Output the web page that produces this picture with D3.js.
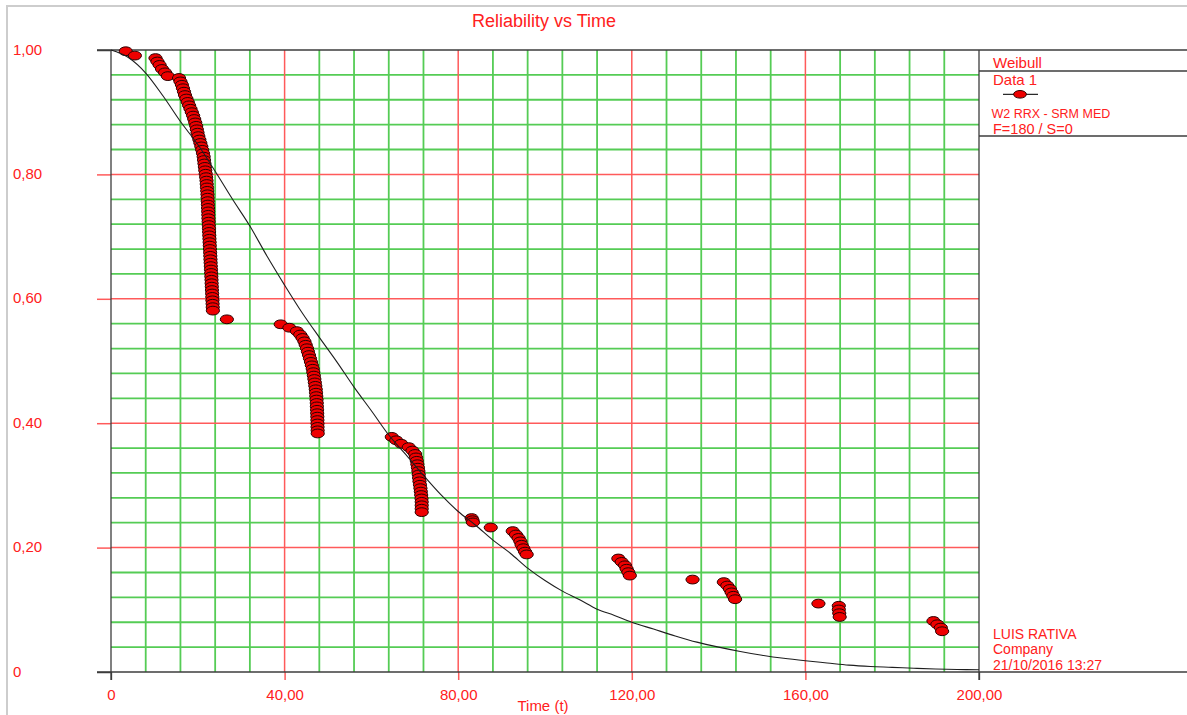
<!DOCTYPE html>
<html>
<head>
<meta charset="utf-8">
<script src="https://cdn.jsdelivr.net/npm/d3@7"></script>
<style>
  html, body { margin: 0; padding: 0; background: #fff; overflow: hidden; }
  svg { display: block; font-family: "Liberation Sans", Arial, sans-serif; }
</style>
</head>
<body>
<svg id="chart" width="1187" height="715"></svg>
<script>
// ---- Failure data (time, reliability estimate), grouped by clusters ----
const failureTimes = [
  3.4, 5.5,
  10.25, 10.7, 11.2, 11.75, 12.45, 13.1,
  15.67, 16.0, 16.34, 16.58, 16.82, 17.05, 17.37, 17.68, 17.99, 18.31,
  18.62, 18.92, 19.17, 19.41, 19.63, 19.78, 19.94, 20.12, 20.36, 20.59,
  20.81, 21.01, 21.20, 21.35, 21.44, 21.53, 21.63, 21.72, 21.82, 21.92,
  22.01, 22.06, 22.12, 22.17, 22.23, 22.26, 22.29, 22.33, 22.36, 22.39,
  22.42, 22.45, 22.49, 22.53, 22.57, 22.60, 22.64, 22.68, 22.72, 22.76,
  22.80, 22.84, 22.88, 22.92, 22.96, 23.00, 23.04, 23.08, 23.12, 23.16,
  23.19, 23.23, 23.26, 23.30, 23.34, 23.37, 23.41, 23.44, 23.48,
  26.7,
  39.1, 41.1, 42.83, 43.59, 44.13, 44.57, 44.86, 45.15, 45.38, 45.62,
  45.85, 46.07, 46.28, 46.48, 46.61, 46.74, 46.86, 46.97, 47.08, 47.18,
  47.24, 47.30, 47.36, 47.41, 47.44, 47.48, 47.51, 47.54, 47.56, 47.58,
  47.59, 47.61, 47.63,
  64.7, 65.72, 66.87, 68.61, 69.46, 70.08, 70.28, 70.46, 70.59, 70.72,
  70.83, 70.91, 70.99, 71.08, 71.19, 71.30, 71.39, 71.47, 71.55, 71.59,
  71.59, 71.59, 71.59,
  83.1, 83.3, 83.4,
  87.5,
  92.56, 93.3, 93.9, 94.33, 94.6, 95.0, 95.4, 95.78,
  116.9, 117.67, 118.43, 118.8, 119.2, 119.55,
  134.0,
  141.2, 142.0, 142.6, 143.0, 143.4, 143.8,
  163.0,
  167.7, 167.7, 167.8, 167.9,
  189.5, 190.4, 191.2, 191.5
];

const reliabilityValues = [
  0.998, 0.991,
  0.987, 0.9815, 0.976, 0.9695, 0.964, 0.958,
  0.955, 0.9495, 0.944, 0.9385, 0.933, 0.9275, 0.922, 0.9165, 0.911, 0.9055,
  0.900, 0.8945, 0.889, 0.8835, 0.878, 0.8725, 0.867, 0.8615, 0.856, 0.8505,
  0.845, 0.8395, 0.834, 0.8285, 0.823, 0.8175, 0.812, 0.8065, 0.801, 0.7955,
  0.790, 0.7845, 0.779, 0.7735, 0.768, 0.7625, 0.757, 0.7515, 0.746, 0.7405,
  0.735, 0.7295, 0.724, 0.7185, 0.713, 0.7075, 0.702, 0.6965, 0.691, 0.6855,
  0.680, 0.6745, 0.669, 0.6635, 0.658, 0.6525, 0.647, 0.6415, 0.636, 0.6305,
  0.625, 0.6195, 0.614, 0.6085, 0.603, 0.5975, 0.592, 0.5865, 0.581,
  0.567,
  0.559, 0.5535, 0.548, 0.5425, 0.537, 0.5315, 0.526, 0.5205, 0.515, 0.5095,
  0.504, 0.4985, 0.493, 0.4875, 0.482, 0.4765, 0.471, 0.4655, 0.460, 0.4545,
  0.449, 0.4435, 0.438, 0.4325, 0.427, 0.4215, 0.416, 0.4105, 0.405, 0.3995,
  0.394, 0.3885, 0.3835,
  0.378, 0.3725, 0.367, 0.3615, 0.356, 0.3505, 0.345, 0.3395, 0.334, 0.3285,
  0.323, 0.3175, 0.312, 0.3065, 0.301, 0.2955, 0.290, 0.2845, 0.279, 0.2735,
  0.268, 0.2625, 0.257,
  0.2475, 0.244, 0.2405,
  0.2323,
  0.2265, 0.221, 0.2155, 0.210, 0.2045, 0.199, 0.1935, 0.189,
  0.1825, 0.177, 0.1715, 0.166, 0.1605, 0.155,
  0.1486,
  0.1445, 0.139, 0.1335, 0.128, 0.1225, 0.117,
  0.110,
  0.1065, 0.1005, 0.0945, 0.0885,
  0.082, 0.0767, 0.0714, 0.0655
];

// ---- Fitted Weibull reliability line ----
const curveTimes = [
  0, 4, 8, 12, 16, 20, 24, 28, 32, 36, 40, 44, 48, 52, 56, 60, 64, 68, 72, 76,
  80, 84, 88, 92, 96, 100, 104, 108, 112, 116, 120, 125, 130, 135, 140, 145,
  150, 155, 160, 165, 170, 175, 180, 185, 190, 195, 200
];
const curveReliability = [
  1.000, 0.988, 0.963, 0.926, 0.885, 0.848, 0.805, 0.760, 0.717, 0.668, 0.622,
  0.578, 0.538, 0.499, 0.458, 0.420, 0.381, 0.349, 0.316, 0.285, 0.258, 0.236,
  0.212, 0.191, 0.167, 0.147, 0.130, 0.116, 0.101, 0.091, 0.080, 0.069, 0.058,
  0.048, 0.040, 0.033, 0.027, 0.022, 0.018, 0.0145, 0.011, 0.0088, 0.0075,
  0.006, 0.0048, 0.0041, 0.0035
];

// ---- Tick labels ----
const xTickValues = [0, 40, 80, 120, 160, 200];
const xTickLabels = ["0", "40,00", "80,00", "120,00", "160,00", "200,00"];
const yTickValues = [0, 0.2, 0.4, 0.6, 0.8, 1.0];
const yTickLabels = ["0", "0,20", "0,40", "0,60", "0,80", "1,00"];

// ---- Text ----
const chartTitle = "Reliability vs Time";
const xAxisTitle = "Time (t)";
const legendLines = ["Weibull", "Data 1", "W2 RRX - SRM MED", "F=180 / S=0"];
const footerLines = ["LUIS RATIVA", "Company", "21/10/2016 13:27"];

// ---- Colours ----
const TEXT_RED = "#ff2020";
const GRID_RED = "#ff5a5a";
const GRID_GREEN = "#55cc55";
const FRAME = "#3c3c3c";

const svg = d3.select("#chart");

const x = d3.scaleLinear().domain([0, 200]).range([111, 979]);
const y = d3.scaleLinear().domain([0, 1]).range([672, 50]);

// window edge
svg.append("path")
  .attr("d", "M7,715 L7,6 L1187,6")
  .attr("fill", "none")
  .attr("stroke", "#cdcdcd")
  .attr("stroke-width", 2);

// title
svg.append("text")
  .attr("x", 544).attr("y", 27)
  .attr("text-anchor", "middle")
  .attr("font-size", 18)
  .attr("fill", TEXT_RED)
  .text(chartTitle);

// ---- grid ----
const grid = svg.append("g");
const minorX = d3.range(1, 25).filter(i => i % 5 !== 0).map(i => i * 8);
const minorY = d3.range(1, 25).filter(i => i % 5 !== 0).map(i => i * 0.04);
const majorX = [40, 80, 120, 160];
const majorY = [0.2, 0.4, 0.6, 0.8];

grid.selectAll(".gx").data(minorX).join("line")
  .attr("x1", d => x(d)).attr("x2", d => x(d))
  .attr("y1", y(1)).attr("y2", y(0))
  .attr("stroke", GRID_GREEN).attr("stroke-width", 1.8);

grid.selectAll(".gy").data(minorY).join("line")
  .attr("x1", x(0)).attr("x2", x(200))
  .attr("y1", d => y(d)).attr("y2", d => y(d))
  .attr("stroke", GRID_GREEN).attr("stroke-width", 1.8);

grid.selectAll(".rx").data(majorX).join("line")
  .attr("x1", d => x(d)).attr("x2", d => x(d))
  .attr("y1", y(1)).attr("y2", y(0))
  .attr("stroke", GRID_RED).attr("stroke-width", 1.5);

grid.selectAll(".ry").data(majorY).join("line")
  .attr("x1", x(0)).attr("x2", x(200))
  .attr("y1", d => y(d)).attr("y2", d => y(d))
  .attr("stroke", GRID_RED).attr("stroke-width", 1.5);

// ---- axes ----
const xAxis = d3.axisBottom(x)
  .tickValues(xTickValues)
  .tickFormat((d, i) => xTickLabels[i])
  .tickSize(8);

const gx = svg.append("g")
  .attr("transform", `translate(0,${y(0)})`)
  .call(xAxis);
gx.select(".domain").remove();
gx.selectAll(".tick line")
  .attr("stroke", d => (d === 0 || d === 200) ? FRAME : GRID_RED)
  .attr("stroke-width", d => (d === 0 || d === 200) ? 1.3 : 1.5);
gx.selectAll(".tick text")
  .attr("y", 28).attr("dy", null)
  .attr("font-size", 15)
  .attr("font-family", "Liberation Sans, Arial, sans-serif")
  .attr("fill", TEXT_RED);

const yAxis = d3.axisLeft(y)
  .tickValues(yTickValues)
  .tickFormat((d, i) => yTickLabels[i])
  .tickSize(14);

const gy = svg.append("g")
  .attr("transform", `translate(${x(0)},0)`)
  .call(yAxis);
gy.select(".domain").remove();
gy.selectAll(".tick line")
  .attr("stroke", d => (d === 0 || d === 1) ? FRAME : GRID_RED)
  .attr("stroke-width", 1.5);
gy.selectAll(".tick text")
  .attr("x", 13 - x(0)).attr("dy", null).attr("y", 4)
  .attr("text-anchor", "start")
  .attr("font-size", 15)
  .attr("font-family", "Liberation Sans, Arial, sans-serif")
  .attr("fill", TEXT_RED);

// x-axis title
svg.append("text")
  .attr("x", 543).attr("y", 711)
  .attr("text-anchor", "middle")
  .attr("font-size", 15)
  .attr("fill", TEXT_RED)
  .text(xAxisTitle);

// ---- frame lines ----
const frame = svg.append("g").attr("stroke", FRAME).attr("stroke-width", 1.3).attr("fill", "none");
frame.append("line").attr("x1", 97).attr("x2", 1187).attr("y1", y(1)).attr("y2", y(1));
frame.append("line").attr("x1", 97).attr("x2", 1187).attr("y1", y(0)).attr("y2", y(0));
frame.append("line").attr("x1", x(0)).attr("x2", x(0)).attr("y1", y(1)).attr("y2", y(0) + 8);
frame.append("line").attr("x1", x(200)).attr("x2", x(200)).attr("y1", y(1)).attr("y2", y(0) + 8);
frame.append("line").attr("x1", x(200)).attr("x2", 1187).attr("y1", 71).attr("y2", 71);
frame.append("line").attr("x1", x(200)).attr("x2", 1187).attr("y1", 136).attr("y2", 136);

// ---- data points ----
const points = d3.range(Math.min(failureTimes.length, reliabilityValues.length))
  .map(i => ({ t: failureTimes[i], r: reliabilityValues[i] }));

svg.append("g").selectAll("ellipse").data(points).join("ellipse")
  .attr("cx", d => x(d.t))
  .attr("cy", d => y(d.r))
  .attr("rx", 6.6).attr("ry", 4.4)
  .attr("fill", "#ee0000")
  .attr("stroke", "#2a0000")
  .attr("stroke-width", 1);

// ---- fitted line ----
const curveData = curveTimes.map((t, i) => ({ t, r: curveReliability[i] }));
svg.append("path")
  .datum(curveData)
  .attr("fill", "none")
  .attr("stroke", "#1e1e1e")
  .attr("stroke-width", 1.1)
  .attr("d", d3.line().x(d => x(d.t)).y(d => y(d.r)).curve(d3.curveMonotoneX));

// ---- legend ----
const legend = svg.append("g").attr("fill", TEXT_RED);
legend.append("text").attr("x", 993).attr("y", 67.5).attr("font-size", 15).text(legendLines[0]);
legend.append("text").attr("x", 993).attr("y", 85).attr("font-size", 15).text(legendLines[1]);
legend.append("line")
  .attr("x1", 1003).attr("x2", 1038).attr("y1", 94.3).attr("y2", 94.3)
  .attr("stroke", "#2a2a2a").attr("stroke-width", 1.2);
legend.append("ellipse")
  .attr("cx", 1020).attr("cy", 94.3).attr("rx", 6.4).attr("ry", 3.8)
  .attr("fill", "#ee0000").attr("stroke", "#2a0000").attr("stroke-width", 1);
legend.append("text").attr("x", 991.5).attr("y", 117.5).attr("font-size", 12.5).text(legendLines[2]);
legend.append("text").attr("x", 993).attr("y", 133.5).attr("font-size", 14.5).text(legendLines[3]);

// ---- footer ----
const footer = svg.append("g").attr("fill", TEXT_RED).attr("font-size", 14);
footer.append("text").attr("x", 993).attr("y", 638.5).text(footerLines[0]);
footer.append("text").attr("x", 993).attr("y", 654).text(footerLines[1]);
footer.append("text").attr("x", 993).attr("y", 669.5).text(footerLines[2]);
</script>
</body>
</html>
